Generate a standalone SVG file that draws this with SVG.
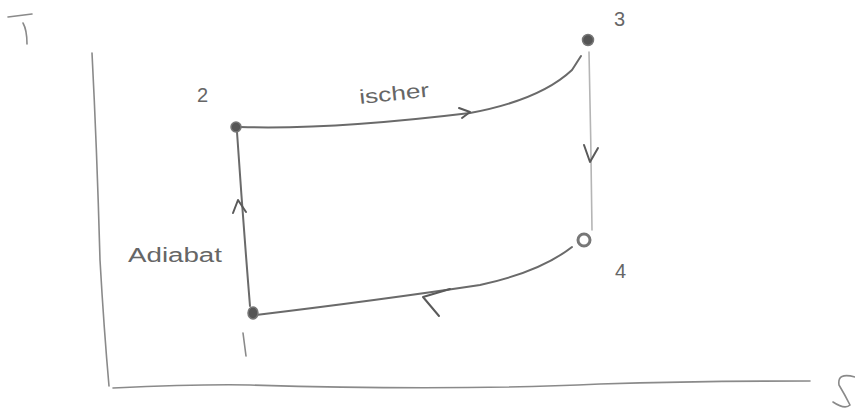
<svg xmlns="http://www.w3.org/2000/svg" width="855" height="412" viewBox="0 0 855 412">
<style>
.ax{fill:none;stroke:#8a8a8a;stroke-width:1.6;stroke-linecap:round}
.ln{fill:none;stroke:#6a6a6a;stroke-width:2;stroke-linecap:round;stroke-linejoin:round}
.lt{fill:none;stroke:#b5b5b5;stroke-width:1.6;stroke-linecap:round}
.ar{fill:none;stroke:#5a5a5a;stroke-width:2;stroke-linecap:round;stroke-linejoin:round}
.pt{fill:#555;stroke:#777;stroke-width:1.5}
.ring{fill:#fff;stroke:#777;stroke-width:3}
.lb{font-family:"Liberation Sans",Arial,sans-serif;fill:#666;font-size:20px}
</style>
<rect width="855" height="412" fill="#fff"/>
<g id="axes">
<path class="ax" d="M92,53 Q97,150 100,260 Q104,330 109,386"/>
<path class="ax" d="M113,388 Q200,384 250,385 Q450,391 600,384 Q700,381 810,381"/>
<path class="ax" d="M8,17 L32,14 M23,23 Q27,30 27,44" stroke-width="2"/>
<path class="ax" d="M855,377 Q837,372 839,385 Q845,395 850,405 Q845,410 833,402" stroke-width="2"/>
</g>
<g id="connectors">
<path class="ln" d="M240,127 Q330,130 470,113 Q540,100 572,70 L581,56"/>
<path class="ar" d="M459,108 L470,112 L462,118"/>
<path class="lt" d="M589,52 Q591,140 592,230"/>
<path class="ar" d="M584,145 L590,162 L598,148" stroke="#888"/>
<path class="ln" d="M572,247 Q540,272 480,285 Q380,300 256,315"/>
<path class="ar" d="M450,289 L423,297 L439,316"/>
<path class="ln" d="M250,306 Q243,220 237,132"/>
<path class="ar" d="M233,213 L238,200 L246,212"/>
</g>
<g id="node-1"><ellipse class="pt" cx="253" cy="313" rx="5" ry="6"/><path class="ax" d="M243,333 L246,356" stroke="#555" stroke-width="2.5"/></g>
<g id="node-2"><circle class="pt" cx="236" cy="127" r="5" fill="#999"/><text class="lb" x="197" y="102" font-size="17">2</text></g>
<g id="node-3"><circle class="pt" cx="588" cy="40" r="5.5"/><text class="lb" x="614" y="26">3</text></g>
<g id="node-4"><circle class="ring" cx="584" cy="240" r="6"/><text class="lb" x="615" y="278">4</text></g>
<g id="labels">
<text class="lb" x="360" y="104" font-size="24" textLength="70" lengthAdjust="spacingAndGlyphs" transform="rotate(-6 360 104)">ischer</text>
<text class="lb" x="128" y="262" font-size="24" textLength="94" lengthAdjust="spacingAndGlyphs">Adiabat</text>
</g>
</svg>
